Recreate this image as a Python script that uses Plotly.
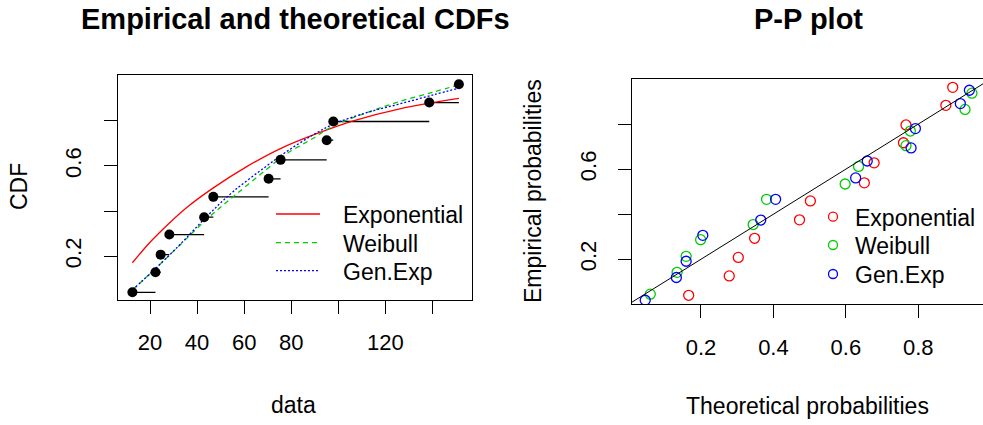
import plotly.graph_objects as go

W, H = 983, 425

# ---------------- data ----------------
# Left panel: empirical CDF (sorted data, plotting positions)
data_x = [12.5, 22.3, 24.5, 28.2, 43.0, 46.9, 70.4, 75.5, 95.1, 97.9, 138.7, 151.3]
ecdf_y = [0.040, 0.129, 0.207, 0.296, 0.373, 0.463, 0.543, 0.627, 0.714, 0.797, 0.881, 0.962]

# Theoretical CDF curves
exp_x = [12.5, 20.0, 27.8, 35.6, 46.9, 61.1, 75.2, 90.8, 106.4, 126.2, 151.3]
exp_y = [0.171, 0.262, 0.343, 0.416, 0.503, 0.597, 0.676, 0.743, 0.800, 0.853, 0.899]

fit_x = [12.5, 21.4, 32.75, 44.1, 55.4, 69.6, 78.1, 89.4, 97.9, 112.1, 126.2, 140.4, 151.3]
weib_y = [0.051, 0.136, 0.250, 0.364, 0.464, 0.585, 0.654, 0.723, 0.777, 0.836, 0.886, 0.927, 0.960]
gexp_y = [0.051, 0.136, 0.252, 0.376, 0.487, 0.600, 0.664, 0.738, 0.785, 0.836, 0.875, 0.915, 0.945]

# Right panel: P-P plot (theoretical vs empirical probabilities)
pp_exp_x = [0.166, 0.278, 0.303, 0.348, 0.472, 0.502, 0.651, 0.678, 0.759, 0.766, 0.876, 0.895]
pp_exp_y = [0.040, 0.126, 0.208, 0.293, 0.375, 0.459, 0.539, 0.628, 0.717, 0.796, 0.883, 0.963]
pp_weib_x = [0.060, 0.134, 0.159, 0.199, 0.344, 0.381, 0.598, 0.635, 0.766, 0.778, 0.929, 0.948]
pp_weib_y = [0.045, 0.142, 0.213, 0.287, 0.354, 0.466, 0.534, 0.612, 0.704, 0.769, 0.865, 0.937]
pp_gexp_x = [0.046, 0.132, 0.159, 0.205, 0.365, 0.406, 0.627, 0.659, 0.780, 0.792, 0.916, 0.941]
pp_gexp_y = [0.018, 0.119, 0.191, 0.306, 0.374, 0.466, 0.561, 0.636, 0.694, 0.780, 0.891, 0.950]
diag = [0.0, 1.0]

series_names = ["Exponential", "Weibull", "Gen.Exp"]
colors = ["#FF0000", "#00CC00", "#0000FF"]
dashes = ["solid", "5px,4px", "2px,2px"]

left_xticks = [20, 40, 60, 80, 100, 120, 140]
left_xtext = ["20", "40", "60", "80", "", "120", ""]
left_yticks = [0.2, 0.4, 0.6, 0.8]
left_ytext = ["0.2", "", "0.6", ""]
right_xticks = [0.2, 0.4, 0.6, 0.8]
right_xtext = ["0.2", "0.4", "0.6", "0.8"]
right_yticks = [0.2, 0.4, 0.6, 0.8]
right_ytext = ["0.2", "", "0.6", ""]

FONT = "Liberation Sans, Arial, sans-serif"

fig = go.Figure()

# step segments of the empirical CDF
sx, sy = [], []
for i in range(len(data_x) - 1):
    sx += [data_x[i], data_x[i + 1], None]
    sy += [ecdf_y[i], ecdf_y[i], None]
fig.add_trace(go.Scatter(x=sx, y=sy, mode="lines", line=dict(color="black", width=1.3),
                         showlegend=False, hoverinfo="skip", xaxis="x", yaxis="y"))

for nm, col, dsh, cx, cy in zip(series_names, colors, dashes,
                                [exp_x, fit_x, fit_x], [exp_y, weib_y, gexp_y]):
    fig.add_trace(go.Scatter(x=cx, y=cy, mode="lines", name=nm,
                             line=dict(color=col, width=1.3, dash=dsh, shape="spline"),
                             showlegend=False, xaxis="x", yaxis="y"))

fig.add_trace(go.Scatter(x=data_x, y=ecdf_y, mode="markers",
                         marker=dict(color="black", size=10),
                         showlegend=False, xaxis="x", yaxis="y"))

# P-P plot
for nm, col, px, py in zip(series_names, colors,
                           [pp_exp_x, pp_weib_x, pp_gexp_x],
                           [pp_exp_y, pp_weib_y, pp_gexp_y]):
    fig.add_trace(go.Scatter(x=px, y=py, mode="markers", name=nm,
                             marker=dict(symbol="circle-open", color=col, size=10,
                                         line=dict(width=1.3, color=col)),
                             showlegend=False, xaxis="x2", yaxis="y2"))
fig.add_trace(go.Scatter(x=diag, y=diag, mode="lines", line=dict(color="black", width=1),
                         showlegend=False, hoverinfo="skip", xaxis="x2", yaxis="y2"))


def px2fx(p):
    return p / W


def px2fy(p):
    return 1 - p / H


axis_common = dict(showline=True, linecolor="black", linewidth=1, ticks="outside",
                   ticklen=13, tickwidth=1, tickcolor="black", showgrid=False,
                   zeroline=False, tickfont=dict(family=FONT, size=22, color="black"))

fig.update_layout(
    width=W, height=H,
    margin=dict(l=0, r=0, t=0, b=0),
    paper_bgcolor="white", plot_bgcolor="white",
    font=dict(family=FONT, color="black"),
    showlegend=False,
    xaxis=dict(domain=[px2fx(118.3), px2fx(472.3)], range=[6.5, 157.0],
               tickmode="array", tickvals=left_xticks, ticktext=left_xtext,
               mirror=True, anchor="y", ticklabelstandoff=10, **axis_common),
    yaxis=dict(domain=[px2fy(300), px2fy(75)], range=[0.006, 1.003],
               tickmode="array", tickvals=left_yticks, ticktext=left_ytext,
               tickangle=-90, mirror=True, anchor="x", ticklabelstandoff=15, **axis_common),
    xaxis2=dict(domain=[px2fx(631.7), 1.0], range=[0.0087, 0.9786],
                tickmode="array", tickvals=right_xticks, ticktext=right_xtext,
                mirror=True, anchor="y2", ticklabelstandoff=10, **axis_common),
    yaxis2=dict(domain=[px2fy(304.3), px2fy(79)], range=[0.0, 1.0],
                tickmode="array", tickvals=right_yticks, ticktext=right_ytext,
                tickangle=-90, mirror=False, anchor="x2", ticklabelstandoff=13, **axis_common),
)

annotations = [
    dict(text="<b>Empirical and theoretical CDFs</b>", x=px2fx(295), y=px2fy(19),
         font=dict(size=29)),
    dict(text="<b>P-P plot</b>", x=px2fx(808), y=px2fy(19), font=dict(size=29)),
    dict(text="data", x=px2fx(293), y=px2fy(405), font=dict(size=23)),
    dict(text="Theoretical probabilities", x=px2fx(807), y=px2fy(406), font=dict(size=23)),
    dict(text="CDF", x=px2fx(19), y=px2fy(187), font=dict(size=23), textangle=-90),
    dict(text="Empirical probabilities", x=px2fx(533), y=px2fy(191), font=dict(size=23),
         textangle=-90),
]

# legends drawn as layout decorations (line samples / open circles + text)
shapes = []
left_leg_rows = [214, 242.7, 270.7]
right_leg_rows = [216.7, 245, 274]
for nm, col, dsh, ly in zip(series_names, colors, dashes, left_leg_rows):
    shapes.append(dict(type="line", xref="paper", yref="paper",
                       x0=px2fx(276), x1=px2fx(320), y0=px2fy(ly), y1=px2fy(ly),
                       line=dict(color=col, width=1.3, dash=dsh)))
    annotations.append(dict(text=nm, x=px2fx(341), y=px2fy(ly + 1), xanchor="left",
                            font=dict(size=23)))
for nm, col, ry in zip(series_names, colors, right_leg_rows):
    shapes.append(dict(type="circle", xref="paper", yref="paper",
                       xsizemode="pixel", ysizemode="pixel",
                       xanchor=px2fx(833), yanchor=px2fy(ry),
                       x0=-4.5, x1=4.5, y0=-4.5, y1=4.5,
                       line=dict(color=col, width=1.3)))
    annotations.append(dict(text=nm, x=px2fx(853), y=px2fy(ry + 1), xanchor="left",
                            font=dict(size=23)))

for a in annotations:
    a.update(xref="paper", yref="paper", showarrow=False, yanchor="middle")
    a.setdefault("xanchor", "center")
    a["font"].update(family=FONT, color="black")
fig.update_layout(annotations=annotations, shapes=shapes)

fig.write_html("out.html")
